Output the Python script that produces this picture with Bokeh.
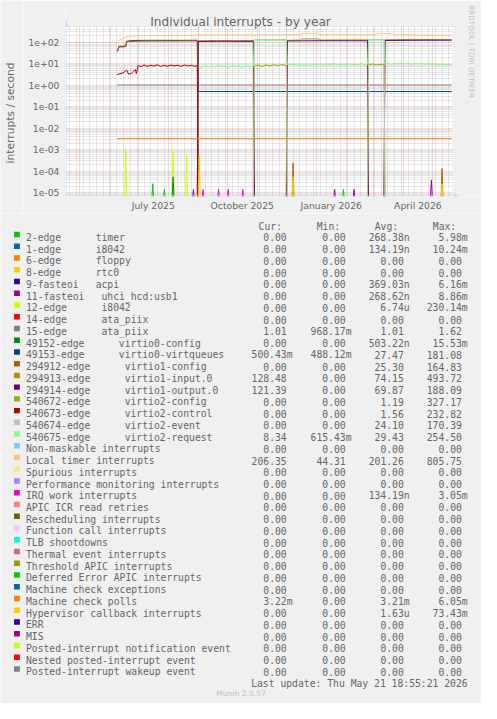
import re
from math import pi
from datetime import datetime, timedelta

import numpy as np
from bokeh.plotting import figure
from bokeh.layouts import column, row
from bokeh.models import Range1d, LinearScale, FixedTicker, CustomJSTickFormatter
from bokeh.core.properties import value
from bokeh.embed import file_html
from bokeh.resources import INLINE

# ---------------------------------------------------------------- data
TITLE = "Individual interrupts - by year"
Y_LABEL = "interrupts / second"
WATERMARK = "RRDTOOL / TOBI OETIKER"
FOOTER = "Munin 2.0.57"
LAST_UPDATE = datetime(2026, 5, 21, 18, 55, 21)
SPAN_DAYS = 400

Y_TICKS = [1e-5, 1e-4, 1e-3, 1e-2, 1e-1, 1e0, 1e1, 1e2]
Y_TICK_LABELS = ["1e-05", "1e-04", "1e-03", "1e-02", "1e-01", "1e+00", "1e+01", "1e+02"]
X_LABEL_MONTHS = ["2025-07", "2025-10", "2026-01", "2026-04"]
X_TICK_LABELS = ["July 2025", "October 2025", "January 2026", "April 2026"]

LABELS = [
    "2-edge      timer", "1-edge      i8042", "6-edge      floppy", "8-edge      rtc0",
    "9-fasteoi   acpi", "11-fasteoi   uhci_hcd:usb1", "12-edge      i8042",
    "14-edge      ata_piix", "15-edge      ata_piix", "49152-edge      virtio0-config",
    "49153-edge      virtio0-virtqueues", "294912-edge      virtio1-config",
    "294913-edge      virtio1-input.0", "294914-edge      virtio1-output.0",
    "540672-edge      virtio2-config", "540673-edge      virtio2-control",
    "540674-edge      virtio2-event", "540675-edge      virtio2-request",
    "Non-maskable interrupts", "Local timer interrupts", "Spurious interrupts",
    "Performance monitoring interrupts", "IRQ work interrupts", "APIC ICR read retries",
    "Rescheduling interrupts", "Function call interrupts", "TLB shootdowns",
    "Thermal event interrupts", "Threshold APIC interrupts", "Deferred Error APIC interrupts",
    "Machine check exceptions", "Machine check polls", "Hypervisor callback interrupts",
    "ERR", "MIS", "Posted-interrupt notification event", "Nested posted-interrupt event",
    "Posted-interrupt wakeup event",
]
COLORS = [
    "#00CC00", "#0066B3", "#FF8000", "#FFCC00", "#330099", "#990099", "#CCFF00", "#FF0000",
    "#808080", "#008F00", "#00487D", "#B35A00", "#B38F00", "#6B006B", "#8FB300", "#B30000",
    "#BEBEBE", "#80FF80", "#80C9FF", "#FFC080", "#FFE680", "#AA80FF", "#EE00CC", "#FF8080",
    "#666600", "#FFBFFF", "#00FFCC", "#CC6699", "#999900", "#00CC00", "#0066B3", "#FF8000",
    "#FFCC00", "#330099", "#990099", "#CCFF00", "#FF0000", "#808080",
]
CUR = ["0.00", "0.00", "0.00", "0.00", "0.00", "0.00", "0.00", "0.00", "1.01", "0.00",
       "500.43m", "0.00", "128.48", "121.39", "0.00", "0.00", "0.00", "8.34", "0.00",
       "206.35", "0.00", "0.00", "0.00", "0.00", "0.00", "0.00", "0.00", "0.00", "0.00",
       "0.00", "0.00", "3.22m", "0.00", "0.00", "0.00", "0.00", "0.00", "0.00"]
MIN = ["0.00", "0.00", "0.00", "0.00", "0.00", "0.00", "0.00", "0.00", "968.17m", "0.00",
       "488.12m", "0.00", "0.00", "0.00", "0.00", "0.00", "0.00", "615.43m", "0.00",
       "44.31", "0.00", "0.00", "0.00", "0.00", "0.00", "0.00", "0.00", "0.00", "0.00",
       "0.00", "0.00", "0.00", "0.00", "0.00", "0.00", "0.00", "0.00", "0.00"]
AVG = ["268.38n", "134.19n", "0.00", "0.00", "369.03n", "268.62n", "6.74u", "0.00", "1.01",
       "503.22n", "27.47", "25.30", "74.15", "69.87", "1.19", "1.56", "24.10", "29.43",
       "0.00", "201.26", "0.00", "0.00", "134.19n", "0.00", "0.00", "0.00", "0.00", "0.00",
       "0.00", "0.00", "0.00", "3.21m", "1.63u", "0.00", "0.00", "0.00", "0.00", "0.00"]
MAX = ["5.98m", "10.24m", "0.00", "0.00", "6.16m", "8.86m", "230.14m", "0.00", "1.62",
       "15.53m", "181.08", "164.83", "493.72", "188.09", "327.17", "232.82", "170.39",
       "254.50", "0.00", "805.75", "0.00", "0.00", "3.05m", "0.00", "0.00", "0.00", "0.00",
       "0.00", "0.00", "0.00", "0.00", "6.05m", "73.43m", "0.00", "0.00", "0.00", "0.00",
       "0.00"]
HEADERS = ["Cur:", "Min:", "Avg:", "Max:"]

DATA_START = "2025-06-09"
DATA_END = "2026-05-21"

# continuous series (date, interrupts/s)
ATA_PIIX_15 = [("2025-06-09", 1.01), ("2026-05-21", 1.01)]
MCE_POLLS = [("2025-06-09", 3.21e-3), ("2026-05-21", 3.22e-3)]
VIRTQUEUES = [("2025-06-09", 41), ("2025-06-10", 44), ("2025-06-11", 63), ("2025-06-18", 64),
              ("2025-06-19", 108), ("2025-06-24", 118), ("2025-07-15", 120), ("2025-08-10", 119),
              ("2025-08-31", 121), ("2025-09-01", 0.5), ("2026-05-21", 0.5)]
VIRTIO1_CONFIG = [("2025-06-09", 35), ("2025-06-10", 38), ("2025-06-11", 58), ("2025-06-18", 60),
                  ("2025-06-19", 104), ("2025-07-05", 110), ("2025-08-31", 112), ("2025-09-01", 0),
                  ("2025-12-07", 0), ("2025-12-08", 2.4e-4), ("2025-12-09", 0), ("2026-05-10", 0),
                  ("2026-05-11", 1.3e-4), ("2026-05-12", 0), ("2026-05-21", 0)]
VIRTIO1_INPUT = [("2025-06-09", 0), ("2025-08-31", 0), ("2025-09-01", 114), ("2025-09-20", 118),
                 ("2025-10-10", 116), ("2025-10-28", 118), ("2025-10-29", 0), ("2025-12-01", 0),
                 ("2025-12-02", 120), ("2025-12-17", 124), ("2025-12-18", 140), ("2026-01-04", 138),
                 ("2026-01-05", 124), ("2026-02-23", 126), ("2026-02-24", 0), ("2026-03-12", 0),
                 ("2026-03-13", 126), ("2026-04-10", 132), ("2026-05-21", 128.48)]
VIRTIO1_OUTPUT = [("2025-06-09", 0), ("2025-08-31", 0), ("2025-09-01", 106), ("2025-09-25", 108),
                  ("2025-10-28", 107), ("2025-10-29", 0), ("2025-12-01", 0), ("2025-12-02", 112),
                  ("2026-01-10", 115), ("2026-02-23", 114), ("2026-02-24", 0), ("2026-03-12", 0),
                  ("2026-03-13", 118), ("2026-04-20", 120), ("2026-05-21", 121.39)]
VIRTIO2_CONFIG = [("2025-06-09", 0), ("2025-10-28", 0), ("2025-10-29", 7.6), ("2025-11-02", 8.4),
                  ("2025-11-06", 7.3), ("2025-11-10", 8.6), ("2025-11-14", 7.7), ("2025-11-18", 8.8),
                  ("2025-11-22", 7.9), ("2025-11-26", 9.0), ("2025-11-30", 8.2), ("2025-12-01", 8.5),
                  ("2025-12-02", 0), ("2026-02-23", 0), ("2026-02-24", 8.9), ("2026-02-28", 9.4),
                  ("2026-03-04", 8.6), ("2026-03-08", 9.2), ("2026-03-12", 8.8), ("2026-03-13", 0),
                  ("2026-05-21", 0)]
VIRTIO2_CONTROL = [("2025-06-09", 3.0), ("2025-06-12", 3.4), ("2025-06-15", 3.6), ("2025-06-19", 4.9),
                   ("2025-06-21", 3.2), ("2025-06-24", 3.5), ("2025-06-28", 5.3), ("2025-06-29", 3.4),
                   ("2025-07-01", 8.1), ("2025-07-04", 7.2), ("2025-07-07", 8.6), ("2025-07-10", 7.4),
                   ("2025-07-14", 8.3), ("2025-07-17", 7.6), ("2025-07-21", 8.7), ("2025-07-24", 7.3),
                   ("2025-07-28", 8.2), ("2025-07-31", 7.5), ("2025-08-04", 8.5), ("2025-08-07", 7.6),
                   ("2025-08-11", 8.4), ("2025-08-14", 7.3), ("2025-08-18", 8.6), ("2025-08-21", 7.7),
                   ("2025-08-25", 8.3), ("2025-08-28", 7.4), ("2025-08-31", 7.9), ("2025-09-01", 0),
                   ("2026-05-21", 0)]
VIRTIO2_EVENT = [("2025-06-09", 0), ("2025-10-28", 0), ("2025-10-29", 128), ("2025-12-01", 130),
                 ("2025-12-02", 0), ("2026-02-23", 0), ("2026-02-24", 132), ("2026-03-12", 130),
                 ("2026-03-13", 0), ("2026-05-21", 0)]
VIRTIO2_REQUEST = [
    ("2025-09-01", 7.2), ("2025-09-04", 6.5), ("2025-09-08", 7.9), ("2025-09-11", 6.7),
    ("2025-09-15", 7.6), ("2025-09-18", 6.6), ("2025-09-22", 8.1), ("2025-09-25", 6.9),
    ("2025-09-29", 7.4), ("2025-10-02", 6.5), ("2025-10-06", 7.8), ("2025-10-09", 6.8),
    ("2025-10-13", 7.5), ("2025-10-16", 6.6), ("2025-10-20", 7.7), ("2025-10-23", 6.9),
    ("2025-10-28", 7.3), ("2025-10-29", 116), ("2025-12-01", 118), ("2025-12-02", 9.2),
    ("2025-12-05", 8.4), ("2025-12-09", 9.6), ("2025-12-12", 8.1), ("2025-12-16", 9.3),
    ("2025-12-19", 8.6), ("2025-12-23", 9.8), ("2025-12-26", 8.3), ("2025-12-30", 9.1),
    ("2026-01-02", 8.7), ("2026-01-06", 9.5), ("2026-01-09", 8.5), ("2026-01-13", 9.4),
    ("2026-01-16", 8.8), ("2026-01-20", 9.9), ("2026-01-23", 8.6), ("2026-01-27", 9.3),
    ("2026-01-30", 8.9), ("2026-02-03", 9.6), ("2026-02-06", 8.4), ("2026-02-10", 9.2),
    ("2026-02-13", 8.8), ("2026-02-17", 9.7), ("2026-02-20", 8.6), ("2026-02-23", 9.1),
    ("2026-02-24", 118), ("2026-03-12", 120), ("2026-03-13", 9.4), ("2026-03-16", 10.6),
    ("2026-03-19", 9.1), ("2026-03-23", 10.4), ("2026-03-26", 9.3), ("2026-03-30", 10.8),
    ("2026-04-02", 9.6), ("2026-04-06", 10.2), ("2026-04-09", 9.2), ("2026-04-13", 10.5),
    ("2026-04-16", 9.5), ("2026-04-20", 10.1), ("2026-04-23", 9.0), ("2026-04-27", 9.9),
    ("2026-04-30", 9.3), ("2026-05-04", 9.8), ("2026-05-07", 8.9), ("2026-05-11", 9.5),
    ("2026-05-14", 8.7), ("2026-05-18", 9.1), ("2026-05-21", 8.34)]
LOCAL_TIMER = [("2025-06-09", 111), ("2025-06-11", 118), ("2025-06-14", 141), ("2025-06-17", 160),
               ("2025-06-21", 187), ("2025-07-01", 195), ("2025-07-20", 200), ("2025-08-15", 206),
               ("2025-09-10", 214), ("2025-10-15", 212), ("2025-11-20", 216), ("2025-12-17", 218),
               ("2025-12-18", 250), ("2026-01-03", 252), ("2026-01-04", 218), ("2026-02-10", 215),
               ("2026-03-04", 217), ("2026-03-05", 250), ("2026-03-21", 249), ("2026-03-22", 216),
               ("2026-04-25", 212), ("2026-05-21", 206.35)]

# isolated non-zero days (everything else is 0)
TIMER_SPIKES = [("2025-07-16", 2.6e-5), ("2025-07-28", 1.4e-5), ("2026-01-29", 1.4e-5)]
UHCI_SPIKES = [("2025-08-27", 1.4e-5), ("2026-01-20", 1.4e-5), ("2026-02-09", 1.4e-5),
               ("2026-04-30", 3.9e-5)]
I8042_12_SPIKES = [("2025-06-18", 1.0e-3), ("2025-08-06", 9e-4), ("2025-08-20", 6e-4)]
VIRTIO0_CONFIG_SPIKES = [("2025-08-06", 5.2e-5)]
IRQ_WORK_SPIKES = [("2025-09-06", 1.4e-5), ("2025-09-22", 1.4e-5), ("2025-10-02", 1.4e-5),
                   ("2025-10-17", 1.4e-5)]
HYPERVISOR_SPIKES = [("2025-09-02", 5e-4), ("2025-12-08", 5.5e-5), ("2026-05-11", 2.6e-5)]

# ---------------------------------------------------------------- helpers
def d(s):
    return datetime.strptime(s, "%Y-%m-%d")


def spikes_to_points(spikes):
    pts = [(d(DATA_START), 0.0)]
    for s, v in spikes:
        t = d(s)
        pts += [(t - timedelta(days=1), 0.0), (t, v), (t + timedelta(days=1), 0.0)]
    pts.append((d(DATA_END), 0.0))
    return sorted(pts, key=lambda q: q[0])


def series_points(rows):
    return [(d(s), v) for s, v in rows]


DRAWN = {
    0: spikes_to_points(TIMER_SPIKES),
    5: spikes_to_points(UHCI_SPIKES),
    6: spikes_to_points(I8042_12_SPIKES),
    8: series_points(ATA_PIIX_15),
    9: spikes_to_points(VIRTIO0_CONFIG_SPIKES),
    10: series_points(VIRTQUEUES),
    11: series_points(VIRTIO1_CONFIG),
    12: series_points(VIRTIO1_INPUT),
    13: series_points(VIRTIO1_OUTPUT),
    14: series_points(VIRTIO2_CONFIG),
    15: series_points(VIRTIO2_CONTROL),
    16: series_points(VIRTIO2_EVENT),
    17: series_points(VIRTIO2_REQUEST),
    19: series_points(LOCAL_TIMER),
    22: spikes_to_points(IRQ_WORK_SPIKES),
    31: series_points(MCE_POLLS),
    32: spikes_to_points(HYPERVISOR_SPIKES),
}

EPOCH = datetime(1970, 1, 1)


def ms(t):
    return (t - EPOCH).total_seconds() * 1000.0


# ---------------------------------------------------------------- layout
OUT_W, OUT_H = 481, 703
REF_W, REF_H = 497, 719                 # decoration positions are given in this space
SX, SY = OUT_W / REF_W, OUT_H / REF_H
S = (SX + SY) / 2


def fpx(v):
    return f"{v * S:.2f}px"


FONT = "#666666"
AXIS = "#CFD6F8"
BACK = "#F0F0F0"
YLAB_W = 22                       # strip holding the y-axis title
PL, PR, PT, PB = 65, 452, 26, 198  # plot area (output px)
CH_H = 213
LOG_TOP, LOG_BOT = 2.733, -5.18
LOG_FLOOR = 10 ** -5.3             # zero values are drawn just below the log axis

FIRST = LAST_UPDATE - timedelta(days=SPAN_DAYS)
x_end = LAST_UPDATE + timedelta(days=SPAN_DAYS * (OUT_W - PR) / (PR - PL))
y_hi = 10 ** (LOG_TOP + PT * (LOG_TOP - LOG_BOT) / (PB - PT))

# ---------------------------------------------------------------- y title strip
yl = figure(width=YLAB_W, height=CH_H, x_range=Range1d(0, YLAB_W / SX),
            y_range=Range1d(CH_H / SY, 0), x_axis_location=None, y_axis_location=None,
            output_backend="svg", toolbar_location=None, title=None, frame_align=False,
            min_border_left=0, min_border_right=0, min_border_top=0, min_border_bottom=0)
yl.grid.visible = False
yl.outline_line_color = None
yl.background_fill_color = BACK
yl.border_fill_color = BACK
yl.text(x=[10.8], y=[115.0], text=[Y_LABEL], angle=pi / 2, text_align="center",
        text_baseline="middle", text_font=value("DejaVu Sans"), text_font_size=fpx(11),
        text_color=FONT)

# ---------------------------------------------------------------- chart
p = figure(width=OUT_W - YLAB_W, height=CH_H, x_axis_type="datetime", y_axis_type="log",
           x_range=Range1d(FIRST, x_end), y_range=Range1d(10 ** LOG_BOT, y_hi),
           output_backend="svg", toolbar_location=None, title=None, frame_align=False,
           min_border_left=PL - YLAB_W, min_border_right=0, min_border_top=0,
           min_border_bottom=CH_H - PB)
p.background_fill_color = "#FFFFFF"
p.border_fill_color = BACK
p.outline_line_color = None

# reference-pixel ranges for decorations inside the frame
p.extra_x_ranges = {"px": Range1d(PL / SX, OUT_W / SX)}
p.extra_y_ranges = {"py": Range1d(PB / SY, 0)}
p.extra_x_scales = {"px": LinearScale()}
p.extra_y_scales = {"py": LinearScale()}

# grids
month_starts, week_starts = [], []
t = datetime(FIRST.year, FIRST.month, 1)
while t <= x_end:
    month_starts.append(ms(t))
    t = datetime(t.year + (t.month == 12), t.month % 12 + 1, 1)
t = datetime(FIRST.year, FIRST.month, FIRST.day) - timedelta(days=FIRST.weekday())
while t <= x_end:
    week_starts.append(ms(t))
    t += timedelta(days=7)
minor_y = [m * 10.0 ** k for k in range(-6, 4) for m in range(2, 10)]
p.xgrid.ticker = FixedTicker(ticks=month_starts, minor_ticks=week_starts)
p.ygrid.ticker = FixedTicker(ticks=Y_TICKS + [1e3], minor_ticks=minor_y)
for g in (p.xgrid[0], p.ygrid[0]):
    g.grid_line_color = "#de4f4f"
    g.grid_line_alpha = 0.42
    g.grid_line_dash = "1 1"
    g.minor_grid_line_color = "#8f8f8f"
    g.minor_grid_line_alpha = 0.42
    g.minor_grid_line_dash = "1 1"

# axes (labels only; the axis lines are drawn below with arrow heads)
mid_ticks = []
for ym in X_LABEL_MONTHS:
    yy, mm = map(int, ym.split("-"))
    a = datetime(yy, mm, 1)
    b = datetime(yy + (mm == 12), mm % 12 + 1, 1)
    mid_ticks.append(ms(a + (b - a) / 2))
p.xaxis.ticker = FixedTicker(ticks=mid_ticks)
p.xaxis.formatter = CustomJSTickFormatter(args=dict(tvals=mid_ticks, labs=X_TICK_LABELS), code="""
    let best = 0, bd = Infinity;
    for (let i = 0; i < tvals.length; i++) {
        const dd = Math.abs(tvals[i] - tick);
        if (dd < bd) { bd = dd; best = i; }
    }
    return labs[best];
""")
p.yaxis.ticker = FixedTicker(ticks=Y_TICKS)
p.yaxis.formatter = CustomJSTickFormatter(args=dict(tvals=Y_TICKS, labs=Y_TICK_LABELS), code="""
    let best = 0, bd = Infinity;
    for (let i = 0; i < tvals.length; i++) {
        const dd = Math.abs(Math.log10(tvals[i]) - Math.log10(tick));
        if (dd < bd) { bd = dd; best = i; }
    }
    return labs[best];
""")
for ax in (p.xaxis[0], p.yaxis[0]):
    ax.axis_line_color = None
    ax.major_tick_line_color = None
    ax.minor_tick_line_color = None
    ax.major_tick_out = 0
    ax.major_tick_in = 0
    ax.major_label_text_font = "DejaVu Sans"
    ax.major_label_text_font_size = fpx(9.5)
    ax.major_label_text_color = FONT
p.xaxis.major_label_standoff = 3
p.yaxis.major_label_standoff = 6

# background outside the plot area (above it and right of it)
p.quad(left=[PL / SX, PR / SX], right=[OUT_W / SX, OUT_W / SX], top=[0, PT / SY],
       bottom=[PT / SY, PB / SY], x_range_name="px", y_range_name="py",
       fill_color=BACK, line_color=None)

# series, in legend order (later ones on top)
for i in range(len(LABELS)):
    if i not in DRAWN:
        continue
    pts = DRAWN[i]
    xs = [q[0] for q in pts]
    ys = np.array([q[1] for q in pts], dtype=float)
    ys = np.where(ys > 0, ys, LOG_FLOOR)
    p.line(xs, ys, line_color=COLORS[i], line_width=1)

# axis lines with arrow heads
ax_x = (PL + 0.5) / SX
ax_y = (PB - 0.5) / SY
p.segment(x0=[ax_x, PL / SX], y0=[PB / SY, ax_y], x1=[ax_x, 470.0], y1=[26.0, ax_y],
          x_range_name="px", y_range_name="py", line_color=AXIS, line_width=1)
p.patches(xs=[[ax_x - 2.7, ax_x + 2.7, ax_x], [468.5, 468.5, 474.5]],
          ys=[[27.0, 27.0, 21.0], [ax_y - 2.7, ax_y + 2.7, ax_y]],
          x_range_name="px", y_range_name="py", fill_color=AXIS, line_color=AXIS,
          line_width=0.5)

# title and watermark
p.text(x=[248.0], y=[22.7], text=[TITLE], x_range_name="px", y_range_name="py",
       text_align="center", text_baseline="alphabetic", text_font=value("DejaVu Sans"),
       text_font_size=fpx(12.5), text_color=FONT)
p.text(x=[487.0], y=[5.0], text=[WATERMARK], x_range_name="px", y_range_name="py",
       angle=-pi / 2, text_align="left", text_baseline="middle",
       text_font=value("DejaVu Sans"), text_font_size=fpx(7.4), text_color="#c4c4c4")

# ---------------------------------------------------------------- legend
lg = figure(width=OUT_W, height=OUT_H - CH_H, x_range=Range1d(0, REF_W),
            y_range=Range1d(REF_H, CH_H / SY), x_axis_location=None, y_axis_location=None,
            output_backend="svg", toolbar_location=None, title=None, frame_align=False,
            min_border_left=0, min_border_right=0, min_border_top=0, min_border_bottom=0)
lg.grid.visible = False
lg.outline_line_color = None
lg.background_fill_color = BACK
lg.border_fill_color = BACK

CH = 6.0                      # monospace advance in reference px
ROW0, ROWH, BASE = 239.3, 12.01, 3.0
rows_y = [ROW0 + ROWH * i for i in range(len(LABELS))]
lg.rect(x=17, y=rows_y, width=6, height=5.6, fill_color=COLORS, line_color=None)

mono = dict(text_font=value("DejaVu Sans Mono"), text_font_size=fpx(10),
            text_color=FONT, text_baseline="alphabetic")
lx, ly, lt = [], [], []
for i, lab in enumerate(LABELS):
    for mt in re.finditer(r"\S+(?: \S+)*", lab):
        lx.append(26.3 + CH * mt.start())
        ly.append(rows_y[i] + BASE)
        lt.append(mt.group())
lg.text(x=lx, y=ly, text=lt, text_align="left", **mono)

vx, vy, vt = [], [], []
for col, right in ((CUR, 301.7), (MIN, 362.7), (AVG, 422.7), (MAX, 482.7)):
    for i, s in enumerate(col):
        vx.append(right if s[-1].isalpha() else right - CH)
        vy.append(rows_y[i] + BASE)
        vt.append(s)
lg.text(x=vx, y=vy, text=vt, text_align="right", **mono)

lg.text(x=[266.7, 326.7, 386.7, 446.7], y=[227.7 + BASE] * 4, text=HEADERS,
        text_align="left", **mono)
lg.text(x=[482.7], y=[695.3 + BASE],
        text=["Last update: " + LAST_UPDATE.strftime("%a %b %d %H:%M:%S %Y")],
        text_align="right", **mono)
lg.text(x=[248.5], y=[708.3], text=[FOOTER], text_align="center",
        text_baseline="middle", text_font=value("DejaVu Sans"), text_font_size=fpx(7.8),
        text_color="#c0c0c0")

layout = column(row(yl, p, spacing=0), lg, spacing=0)
open("out.html", "w").write(file_html(layout, INLINE))
